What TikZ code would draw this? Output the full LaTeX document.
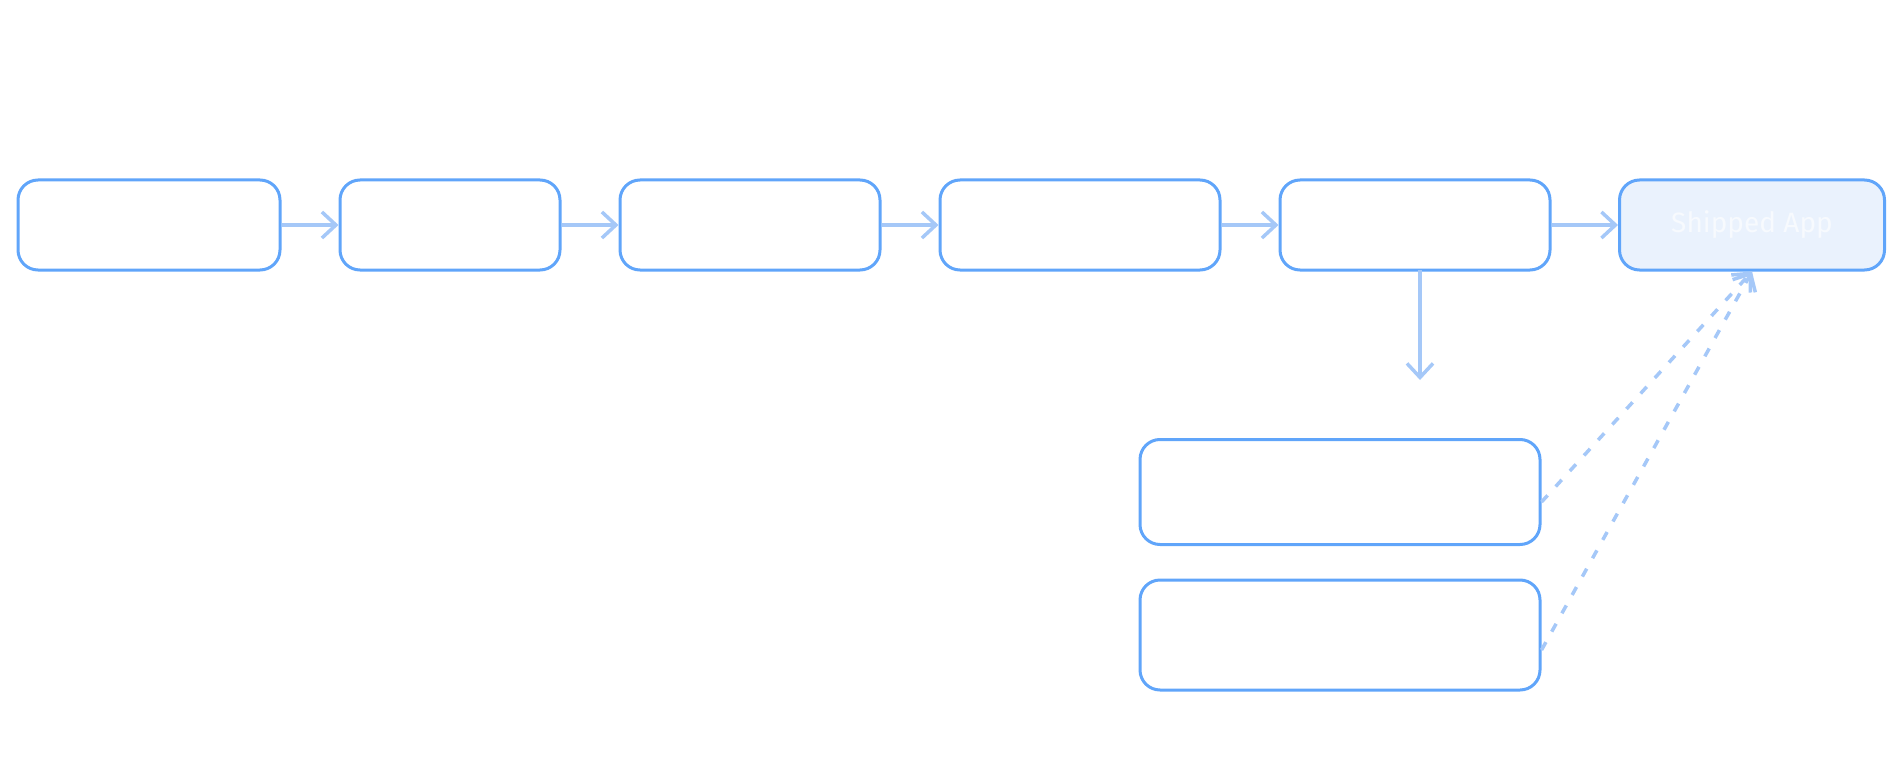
\documentclass[tikz,border=0pt]{standalone}
\usepackage{fontspec}
\setmainfont{Fira Sans}
\usetikzlibrary{arrows.meta}
\definecolor{boxline}{HTML}{60A5FA}
\definecolor{flowline}{HTML}{A5C8F8}
\definecolor{shipfill}{HTML}{EAF2FD}
\definecolor{shiptext}{HTML}{F7FAFE}
\tikzset{every picture/.style={line width=3pt},
  stage/.style={draw=boxline, line width=3pt, rounded corners=20pt, inner sep=0pt},
  flow/.style={draw=flowline, line width=3.5pt, -{Straight Barb[length=14pt,width=26pt]}},
  hint/.style={flow, dash pattern=on 9pt off 12pt}}
\begin{document}
\begin{tikzpicture}[x=1pt,y=-1pt]
		\useasboundingbox (0,0) rectangle (1900,770);
		
		%stages
		\node [stage, minimum width=262pt, minimum height=90pt] (plan) at (149,225) {};
		\node [stage, minimum width=220pt, minimum height=90pt] (design) at (450,225) {};
		\node [stage, minimum width=260pt, minimum height=90pt] (build) at (750,225) {};
		\node [stage, minimum width=280pt, minimum height=90pt] (test) at (1080,225) {};
		\node [stage, minimum width=270pt, minimum height=90pt] (release) at (1415,225) {};
		\node [stage, fill=shipfill, minimum width=265pt, minimum height=90pt, text=shiptext, font=\fontsize{28}{32}\selectfont] (shipped) at (1752,225) {Shipped App};
		\node [stage, minimum width=400pt, minimum height=105pt] (review) at (1340,492) {};
		\node [stage, minimum width=400pt, minimum height=110pt] (fix) at (1340,635) {};
		
		\draw [flow] (plan) -- (design);
		\draw [flow] (design) -- (build);
		\draw [flow] (build) -- (test);
		\draw [flow] (test) -- (release);
		\draw [flow] (release) -- (shipped);
		\coordinate (down) at (1420,380);
		\draw [flow] (1420,270) -- (down);
		\draw [hint] (review.east) ++(0,10) -- (shipped.south);
		\draw [hint] (fix.east) ++(0,15) -- (shipped.south);
		
	\end{tikzpicture}
\end{document}
